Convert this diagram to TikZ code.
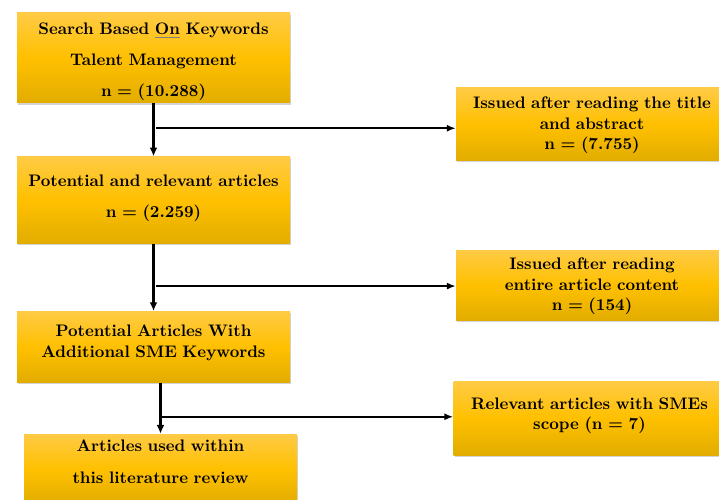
\documentclass[tikz,border=0pt]{standalone}
\usepackage{xcolor}
\usepackage{tikz}
\usetikzlibrary{positioning,arrows.meta,shadows,calc}

\definecolor{goldtop}{HTML}{FFCB45}
\definecolor{goldmid}{HTML}{FFC000}
\definecolor{goldbot}{HTML}{E2AD00}

\begin{document}
\begin{tikzpicture}[
				mainbox/.style={rectangle, top color=goldtop, bottom color=goldbot, middle color=goldmid,
					drop shadow={shadow xshift=0.7pt, shadow yshift=-0.9pt, opacity=0.35},
					text width=5.2cm, inner xsep=0.13cm, inner ysep=0pt, align=center,
					font=\fontsize{9.5}{11.6}\selectfont\bfseries},
				sidebox/.style={mainbox, text width=5.18cm},
				downline/.style={-{Latex[length=5pt,width=4.5pt]}, line width=1.2pt},
				sideline/.style={-{Latex[length=5pt,width=4pt]}, line width=0.9pt},
				]
				\useasboundingbox (0,0) rectangle (14.38,9.98);
				
				%Nodes
				\node[mainbox, minimum height=1.8cm](search) at (3.07,8.82)
					{\rule{0pt}{10.6pt}Search Based {\color{gray}\underline{\color{black}On}} Keywords\\[6pt] Talent Management\\[6pt] n = (10.288)};
				\node[mainbox, minimum height=1.74cm](potential)[below=1.06cm of search]
					{Potential and relevant articles\\[6.4pt] n = (2.259)\\[-7pt]~};
				\node[mainbox, minimum height=1.42cm](sme)[below=1.34cm of potential]
					{Potential Articles With\\ Additional SME Keywords\\[-5pt]~};
				\node[mainbox, minimum height=1.4cm](review)[below=1.02cm of sme, xshift=0.14cm]
					{Articles used within\\[6.6pt] this literature review\\[-3.6pt]~};
				
				\node[sidebox, minimum height=1.44cm](issued1) at (11.84,7.50)
					{\rule{0pt}{8.4pt}Issued after reading the title\\ and abstract\\ n = (7.755)};
				\node[sidebox, minimum height=1.4cm](issued2) at (11.84,4.28)
					{\rule{0pt}{8.2pt}Issued after reading\\ entire article content\\ n = (154)};
				\node[sidebox, minimum height=1.48cm](relevant) at (11.79,1.62)
					{Relevant articles with SMEs\\ scope (n = 7)\\[-6.5pt]~};
				
				%Lines
				\coordinate (j1) at ($(search.south)!0.47!(potential.north)$);
				\coordinate (j2) at ($(potential.south)!0.627!(sme.north)$);
				\coordinate (j3) at ($(sme.south -| review.north)!0.667!(review.north)$);
				
				\draw[downline] (search.south) -- (potential.north);
				\draw[downline] (potential.south) -- (sme.north);
				\draw[downline] (sme.south -| review.north) -- (review.north);
				
				\draw[sideline] ([xshift=1.5pt]j1) -- (j1 -| issued1.west);
				\draw[sideline] ([xshift=1.5pt]j2) -- (j2 -| issued2.west);
				\draw[sideline] ([xshift=1pt]j3) -- (j3 -| relevant.west);
				
			\end{tikzpicture}
\end{document}
